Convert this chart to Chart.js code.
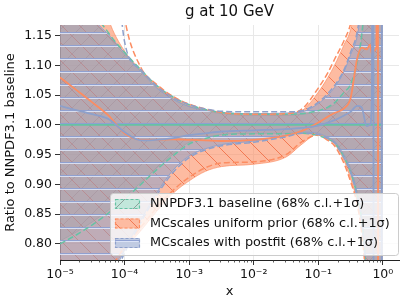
<!DOCTYPE html>
<html>
<head>
<meta charset="utf-8">
<script src="https://cdn.jsdelivr.net/npm/chart.js@4.4.1/dist/chart.umd.min.js"></script>
<style>
  html, body { margin: 0; padding: 0; background: #fff; }
  canvas { display: block; }
</style>
</head>
<body>
<canvas id="pdfChart" width="407" height="306"></canvas>
<script>
// x grid (log spaced)
const xValues = [1e-5, 1.78e-5, 3.16e-5, 5.62e-5, 1e-4, 1.78e-4, 3.16e-4, 5.62e-4, 1e-3, 1.78e-3,
    3.16e-3, 1e-2, 3.16e-2, 5.62e-2, 0.1, 0.141, 0.178, 0.251, 0.316, 0.398,
    0.468, 0.562, 0.631, 0.676, 0.708, 0.724, 0.794, 0.832, 0.851, 0.955, 0.977, 1.0];

// NNPDF3.1 baseline
const baselineCentral = [1, 1, 1, 1, 1, 1, 1, 1, 1, 1, 1, 1, 1, 1, 1, 1, 1, 1, 1, 1, 1, 1, 1, 1, 1, 1, 1, 1, 1, 1, 1, 1];
const baselineUp68 = [1.40, 1.26, 1.18, 1.148, 1.118, 1.09, 1.063, 1.044, 1.031, 1.024, 1.019, 1.016, 1.016, 1.018, 1.022, 1.028, 1.034, 1.05, 1.062, 1.10, 1.14, 1.22, 1.30, 1.35, 1.40, 1.42, 1.50, 1.55, 1.60, 1.80, 1.80, 1.80];
const baselineLow68 = [0.805, 0.82, 0.837, 0.857, 0.879, 0.903, 0.928, 0.951, 0.971, 0.979, 0.984, 0.986, 0.986, 0.987, 0.984, 0.978, 0.972, 0.95, 0.928, 0.89, 0.85, 0.75, 0.65, 0.60, 0.55, 0.52, 0.45, 0.40, 0.35, 0.20, 0.20, 0.20];
const baselineUp1s = [1.45, 1.30, 1.20, 1.155, 1.122, 1.093, 1.066, 1.047, 1.034, 1.026, 1.021, 1.018, 1.018, 1.019, 1.024, 1.03, 1.037, 1.055, 1.068, 1.105, 1.15, 1.25, 1.35, 1.40, 1.45, 1.48, 1.55, 1.60, 1.65, 1.85, 1.85, 1.85];
const baselineLow1s = [0.80, 0.815, 0.832, 0.852, 0.875, 0.90, 0.925, 0.948, 0.968, 0.977, 0.983, 0.985, 0.985, 0.986, 0.982, 0.976, 0.97, 0.945, 0.92, 0.882, 0.84, 0.74, 0.64, 0.59, 0.54, 0.51, 0.44, 0.39, 0.34, 0.19, 0.19, 0.19];

// MCscales uniform prior
const uniformCentral = [1.08, 1.059, 1.038, 1.016, 0.986, 0.975, 0.975, 0.976, 0.975, 0.974, 0.973, 0.975, 0.982, 0.99, 1.004, 1.014, 1.02, 1.028, 1.045, 1.11, 1.13, 1.127, 1.135, 1.12, 1.122, 1.125, 1.13, 1.90, 0.15, 0.15, 0.15, 0.15];
const uniformUp68 = [1.60, 1.45, 1.28, 1.178, 1.124, 1.093, 1.065, 1.046, 1.033, 1.025, 1.02, 1.016, 1.017, 1.024, 1.055, 1.08, 1.10, 1.135, 1.16, 1.22, 1.30, 1.40, 1.50, 1.55, 1.60, 1.63, 1.70, 1.75, 1.80, 1.90, 1.90, 1.90];
const uniformLow68 = [0.60, 0.65, 0.70, 0.745, 0.79, 0.822, 0.855, 0.885, 0.906, 0.922, 0.93, 0.934, 0.946, 0.968, 0.985, 0.976, 0.968, 0.94, 0.91, 0.872, 0.83, 0.73, 0.60, 0.55, 0.50, 0.47, 0.40, 0.35, 0.30, 0.15, 0.15, 0.15];
const uniformUp1s = [1.90, 1.80, 1.60, 1.40, 1.18, 1.097, 1.068, 1.048, 1.035, 1.027, 1.021, 1.018, 1.019, 1.027, 1.062, 1.088, 1.11, 1.142, 1.17, 1.23, 1.32, 1.42, 1.52, 1.57, 1.62, 1.65, 1.72, 1.77, 1.82, 1.92, 1.92, 1.92];
const uniformLow1s = [0.61, 0.66, 0.71, 0.752, 0.795, 0.828, 0.861, 0.89, 0.912, 0.928, 0.936, 0.938, 0.95, 0.972, 0.983, 0.974, 0.965, 0.935, 0.905, 0.868, 0.82, 0.72, 0.59, 0.54, 0.49, 0.46, 0.39, 0.34, 0.29, 0.14, 0.14, 0.14];

// MCscales with postfit
const postfitCentral = [1.032, 1.025, 1.018, 1.01, 0.988, 0.974, 0.975, 0.978, 0.983, 0.986, 0.989, 0.991, 0.993, 0.995, 0.999, 1.004, 1.008, 1.016, 1.022, 1.032, 1.03, 0.998, 1.0, 1.05, 1.90, 0.10, 0.10, 0.10, 0.10, 0.10, 1.90, 1.90];
const postfitUp68 = [1.41, 1.27, 1.185, 1.152, 1.121, 1.09, 1.062, 1.043, 1.031, 1.025, 1.021, 1.019, 1.02, 1.022, 1.036, 1.05, 1.063, 1.09, 1.118, 1.148, 1.20, 1.30, 1.40, 1.45, 1.50, 1.53, 1.60, 1.65, 1.70, 1.80, 1.80, 1.80];
const postfitLow68 = [0.55, 0.60, 0.66, 0.73, 0.79, 0.84, 0.886, 0.924, 0.948, 0.96, 0.967, 0.973, 0.982, 0.988, 0.986, 0.979, 0.973, 0.948, 0.925, 0.885, 0.845, 0.74, 0.60, 0.55, 0.50, 0.47, 0.40, 0.35, 0.30, 0.15, 0.15, 0.15];
const postfitUp1s = [1.60, 1.60, 1.60, 1.45, 1.14, 1.093, 1.065, 1.046, 1.034, 1.027, 1.023, 1.022, 1.022, 1.024, 1.038, 1.053, 1.066, 1.093, 1.122, 1.155, 1.21, 1.31, 1.41, 1.46, 1.51, 1.54, 1.61, 1.66, 1.71, 1.81, 1.81, 1.81];
const postfitLow1s = [0.54, 0.59, 0.65, 0.72, 0.785, 0.836, 0.882, 0.92, 0.945, 0.958, 0.965, 0.971, 0.98, 0.986, 0.984, 0.977, 0.97, 0.944, 0.92, 0.88, 0.84, 0.73, 0.59, 0.54, 0.49, 0.46, 0.39, 0.34, 0.29, 0.14, 0.14, 0.14];

const yTickValues = [0.80, 0.85, 0.90, 0.95, 1.00, 1.05, 1.10, 1.15];
const legendLabels = [
    'NNPDF3.1 baseline (68% c.l.+1\u03c3)',
    'MCscales uniform prior (68% c.l.+1\u03c3)',
    'MCscales with postfit (68% c.l.+1\u03c3)'
];

const FONT = '"DejaVu Sans", sans-serif';
const canvas = document.getElementById('pdfChart');
const ctx = canvas.getContext('2d');

function makeHatch(fill, line, kind, size, lw) {
    const c = document.createElement('canvas');
    c.width = size;
    c.height = size;
    const g = c.getContext('2d');
    g.fillStyle = fill;
    g.fillRect(0, 0, size, size);
    g.strokeStyle = line;
    g.lineWidth = lw;
    g.beginPath();
    if (kind === '/') {
        g.moveTo(-1, size + 1); g.lineTo(size + 1, -1);
        g.moveTo(-2, 2); g.lineTo(2, -2);
        g.moveTo(size - 2, size + 2); g.lineTo(size + 2, size - 2);
        g.stroke();
    } else if (kind === '\\') {
        g.moveTo(-1, -1); g.lineTo(size + 1, size + 1);
        g.moveTo(size - 2, -2); g.lineTo(size + 2, 2);
        g.moveTo(-2, size - 2); g.lineTo(2, size + 2);
        g.stroke();
    } else {
        // blue line with a pale line under it
        g.fillStyle = line;
        g.fillRect(0, 6, size, lw);
        g.fillStyle = 'rgba(225,232,252,0.85)';
        g.fillRect(0, 6 + lw, size, 1);
    }
    return ctx.createPattern(c, 'repeat');
}

const series = [
    {
        color: '#66c2a5', edge: 'rgba(102,194,165,0.8)',
        hatch: makeHatch('rgba(102,194,165,0.4)', 'rgba(90,90,90,0.5)', '/', 18, 1),
        central: baselineCentral, up68: baselineUp68, low68: baselineLow68, up1s: baselineUp1s, low1s: baselineLow1s
    },
    {
        color: '#fc8d62', edge: 'rgba(252,141,98,0.7)',
        hatch: makeHatch('rgba(252,141,98,0.6)', 'rgba(240,110,70,0.85)', '\\', 18, 1),
        central: uniformCentral, up68: uniformUp68, low68: uniformLow68, up1s: uniformUp1s, low1s: uniformLow1s
    },
    {
        color: '#8da0cb', edge: '#8da0cb',
        hatch: makeHatch('rgba(141,160,203,0.55)', 'rgba(141,160,210,0.95)', '-', 13, 1),
        central: postfitCentral, up68: postfitUp68, low68: postfitLow68, up1s: postfitUp1s, low1s: postfitLow1s
    }
];

function toPoints(values) {
    return xValues.map((x, i) => ({ x: x, y: values[i] }));
}

// bands first, lines on top of all bands
const datasets = [];
series.forEach(s => {
    const lowIndex = datasets.length + 1;
    datasets.push({
        data: toPoints(s.up68), borderColor: s.edge, borderWidth: 1,
        backgroundColor: s.hatch, fill: lowIndex
    });
    datasets.push({
        data: toPoints(s.low68), borderColor: s.edge, borderWidth: 1, fill: false
    });
});
series.forEach(s => {
    datasets.push({
        data: toPoints(s.central), borderColor: s.color, borderWidth: 1.8, fill: false
    });
    datasets.push({
        data: toPoints(s.up1s), borderColor: s.color, borderWidth: 1.5, borderDash: [6, 3], fill: false
    });
    datasets.push({
        data: toPoints(s.low1s), borderColor: s.color, borderWidth: 1.5, borderDash: [6, 3], fill: false
    });
});
datasets.forEach((d, i) => {
    d.order = datasets.length - i;
    d.pointRadius = 0;
    d.cubicInterpolationMode = 'monotone';
});

function isDecade(v) {
    const l = Math.log10(v);
    return Math.abs(l - Math.round(l)) < 1e-6;
}

function superscript(n) {
    const map = { '-': '\u207b', '0': '\u2070', '1': '\u00b9', '2': '\u00b2', '3': '\u00b3',
        '4': '\u2074', '5': '\u2075', '6': '\u2076', '7': '\u2077', '8': '\u2078', '9': '\u2079' };
    return String(n).split('').map(ch => map[ch]).join('');
}

const titlePlugin = {
    id: 'plotTitle',
    afterDraw(chart) {
        const a = chart.chartArea;
        const c = chart.ctx;
        c.save();
        c.font = '15px ' + FONT;
        c.fillStyle = '#111';
        c.textAlign = 'center';
        c.textBaseline = 'middle';
        c.fillText('g at 10 GeV', (a.left + a.right) / 2, 12);
        c.restore();
    }
};

const minorTicksPlugin = {
    id: 'minorTicks',
    afterDraw(chart) {
        const xs = chart.scales.x;
        const c = chart.ctx;
        c.save();
        c.strokeStyle = '#333';
        c.lineWidth = 0.8;
        xs.ticks.forEach(t => {
            if (isDecade(t.value)) return;
            const px = Math.round(xs.getPixelForValue(t.value)) + 0.5;
            c.beginPath();
            c.moveTo(px, xs.top);
            c.lineTo(px, xs.top + 2.5);
            c.stroke();
        });
        c.restore();
    }
};

const legendPlugin = {
    id: 'bandLegend',
    afterDraw(chart) {
        const c = chart.ctx;
        const left = 110, top = 193, right = 398, bottom = 255;
        c.save();
        c.beginPath();
        c.roundRect(left + 0.5, top + 0.5, right - left, bottom - top, 3);
        c.fillStyle = 'rgba(255,255,255,0.8)';
        c.fill();
        c.strokeStyle = '#cccccc';
        c.lineWidth = 1;
        c.stroke();
        legendLabels.forEach((label, i) => {
            const s = series[i];
            const cy = 204 + i * 19.5;
            c.fillStyle = 'white';
            c.fillRect(115, cy - 5, 25, 10);
            c.fillStyle = s.hatch;
            c.fillRect(115, cy - 5, 25, 10);
            c.setLineDash([3, 2]);
            c.strokeStyle = s.color;
            c.lineWidth = 1.2;
            c.strokeRect(115.5, cy - 4.5, 24, 9);
            c.setLineDash([]);
            c.fillStyle = '#111';
            c.font = '12.8px ' + FONT;
            c.textAlign = 'left';
            c.textBaseline = 'middle';
            c.fillText(label, 150, cy);
        });
        c.restore();
    }
};

new Chart(ctx, {
    type: 'line',
    data: { datasets: datasets },
    options: {
        responsive: false,
        animation: false,
        devicePixelRatio: 1,
        layout: { padding: { top: 25, right: 8, left: 0, bottom: 0 } },
        plugins: {
            legend: { display: false },
            tooltip: { enabled: false },
            title: { display: false }
        },
        scales: {
            x: {
                type: 'logarithmic',
                min: 1e-5,
                max: 1.778,
                afterFit(scale) { scale.height = 46; },
                afterBuildTicks(scale) {
                    const ticks = [];
                    for (let e = -5; e <= 0; e++) {
                        for (let k = 1; k <= 9; k++) {
                            const v = k * Math.pow(10, e);
                            if (v <= 1.778) ticks.push({ value: v });
                        }
                    }
                    scale.ticks = ticks;
                },
                ticks: {
                    autoSkip: false,
                    maxRotation: 0,
                    padding: 2,
                    color: '#111',
                    font: { family: FONT, size: 12.5 },
                    callback: v => isDecade(v) ? '10' + superscript(Math.round(Math.log10(v))) : ''
                },
                grid: {
                    color: c => (c.tick && isDecade(c.tick.value)) ? '#e8e8e8' : 'rgba(0,0,0,0)',
                    tickColor: c => (c.tick && isDecade(c.tick.value)) ? '#333' : 'rgba(0,0,0,0)',
                    tickLength: 5,
                    lineWidth: 1
                },
                border: { color: '#222', width: 1 },
                title: {
                    display: true,
                    text: 'x',
                    color: '#111',
                    font: { family: FONT, size: 13 },
                    padding: { top: 0, bottom: 7 }
                }
            },
            y: {
                type: 'linear',
                min: 0.773,
                max: 1.168,
                afterFit(scale) { scale.width = 60; },
                afterBuildTicks(scale) {
                    scale.ticks = yTickValues.map(v => ({ value: v }));
                },
                ticks: {
                    padding: 3,
                    color: '#111',
                    font: { family: FONT, size: 12.5 },
                    callback: v => v.toFixed(2)
                },
                grid: {
                    color: '#e8e8e8',
                    tickColor: '#333',
                    tickLength: 5,
                    lineWidth: 1
                },
                border: { color: '#222', width: 1 },
                title: {
                    display: true,
                    text: 'Ratio to NNPDF3.1 baseline',
                    color: '#111',
                    font: { family: FONT, size: 13 },
                    padding: { top: 3, bottom: 0 }
                }
            }
        }
    },
    plugins: [titlePlugin, minorTicksPlugin, legendPlugin]
});
</script>
</body>
</html>
